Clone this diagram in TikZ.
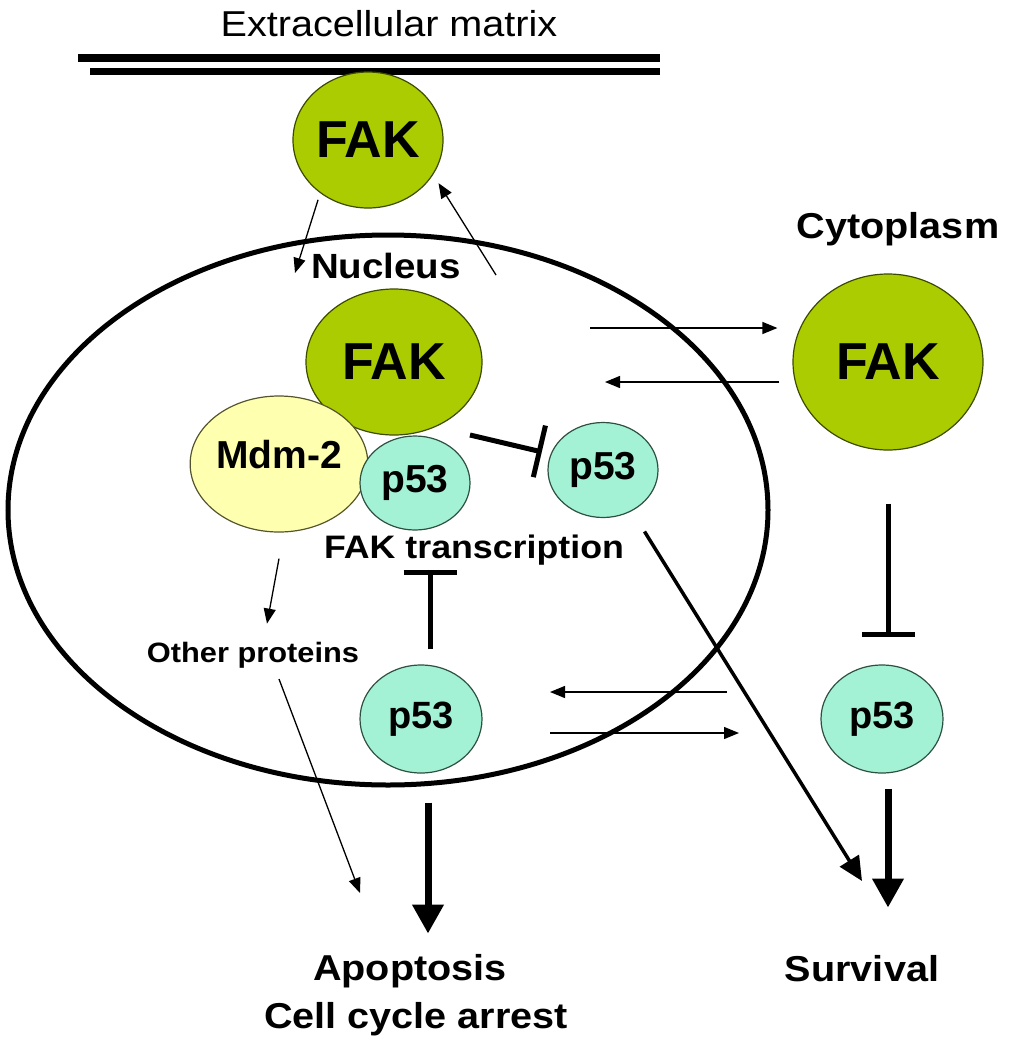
\documentclass[tikz,border=0pt]{standalone}
\usepackage{fontspec}
\setmainfont{Liberation Sans}
\usepackage{graphicx}
\usetikzlibrary{shapes.geometric,arrows.meta}
\definecolor{fakgreen}{RGB}{170,204,0}
\definecolor{fakline}{RGB}{60,75,0}
\definecolor{pcyan}{RGB}{164,242,214}
\definecolor{pline}{RGB}{45,80,65}
\definecolor{mdmyellow}{RGB}{255,255,176}
\definecolor{mdmline}{RGB}{85,85,45}
\newcommand\stretchx[1]{\scalebox{1.1}[1]{#1}}
\tikzset{
	prot/.style={ellipse,inner sep=0pt,line width=1.2pt},
	fak/.style={prot,fill=fakgreen,draw=fakline,font=\bfseries\fontsize{52}{60}\selectfont},
	pfs/.style={prot,fill=pcyan,draw=pline,font=\bfseries\fontsize{39}{46}\selectfont},
	mdmnode/.style={prot,fill=mdmyellow,draw=mdmline,font=\bfseries\fontsize{39}{46}\selectfont},
	tlabel/.style={inner sep=0pt,anchor=base,font=\bfseries\fontsize{36}{43}\selectfont},
	thinarrow/.style={line width=1.3pt,-{Triangle[length=15pt,width=12pt]}},
	midarrow/.style={line width=3.5pt,-{Triangle[length=24pt,width=22pt]}},
	bigarrow/.style={line width=7pt,-{Triangle[length=29pt,width=30pt]}},
	inhibit/.style={line width=5pt,-{Bar[width=53pt]}}
}
\begin{document}
\begin{tikzpicture}[x=1pt,y=-1pt]
	\useasboundingbox (0,0) rectangle (1011,1050);
	\path
	(295,273) coordinate (toNuc)
	(496,275) coordinate (fromNuc)
	(590,328) coordinate (outS)
	(605,382) coordinate (inE)
	(727,692) coordinate (lowLs) (550,692) coordinate (lowL)
	(550,733) coordinate (lowR) (739,733) coordinate (lowRe)
	(470,435) coordinate (inhS)
	(862,881) coordinate (survIn)
	;
	% membrane and nucleus
	\draw[line width=8pt] (78,58) -- (660,58);
	\draw[line width=7pt] (90,71) -- (660,71);
	\draw[line width=5pt] (388,510) ellipse [x radius=380,y radius=275];
	% proteins
	\node[fak,minimum width=150pt,minimum height=136pt] (fakTop) at (368,140) {FAK};
	\node[fak,minimum width=176pt,minimum height=146pt] (fakNuc) at (394,362) {FAK};
	\node[fak,minimum width=190pt,minimum height=176pt] (fakCyt) at (888,362) {FAK};
	\node[mdmnode,minimum width=164pt,minimum height=136pt,text depth=20pt] (mdm) at (279,464) {Mdm-2};
	\node[pfs,minimum width=110pt,minimum height=94pt] (p53c) at (415,483) {p53};
	\node[pfs,minimum width=110pt,minimum height=95pt] (p53n) at (603,470) {p53};
	\node[pfs,minimum width=122pt,minimum height=108pt,font=\bfseries\fontsize{38}{45}\selectfont] (p53l) at (421,719) {p53};
	\node[pfs,minimum width=122pt,minimum height=108pt,font=\bfseries\fontsize{38}{45}\selectfont] (p53r) at (882,719) {p53};
	% labels
	\node[tlabel,font=\fontsize{36}{43}\selectfont] (ecm) at (389,36) {\stretchx{Extracellular matrix}};
	\node[tlabel,font=\bfseries\fontsize{35}{42}\selectfont] (nucl) at (386,278) {\stretchx{Nucleus}};
	\node[tlabel] (cyto) at (898,238) {\stretchx{Cytoplasm}};
	\node[tlabel,font=\bfseries\fontsize{32.5}{39}\selectfont] (trans) at (474,558) {\stretchx{FAK transcription}};
	\node[tlabel,font=\bfseries\fontsize{28}{34}\selectfont] (other) at (253,662) {\stretchx{Other proteins}};
	\node[tlabel] (apop) at (410,980) {\stretchx{Apoptosis}};
	\node[tlabel] (arrest) at (416,1028) {\stretchx{Cell cycle arrest}};
	\node[tlabel] (surv) at (862,981) {\stretchx{Survival}};
	% shuttling of FAK
	\draw[thinarrow,shorten <=7pt] (fakTop.228) -- (toNuc);
	\draw[thinarrow,shorten >=10pt] (fromNuc) -- (fakTop.332);
	\draw[thinarrow,shorten >=15pt] (outS) -- (outS -| fakCyt.west);
	\draw[thinarrow,shorten <=13pt] (fakCyt.west |- inE) -- (inE);
	% shuttling of p53
	\draw[thinarrow] (lowLs) -- (lowL);
	\draw[thinarrow] (lowR) -- (lowRe);
	% inhibitions
	\draw[inhibit,shorten >=9pt] (inhS) -- (p53n.163);
	\draw[inhibit] ([xshift=9pt,yshift=15pt]p53l.north) -- ++(0,-79);
	\draw[inhibit,shorten <=53pt,shorten >=27pt] (fakCyt.south) -- (fakCyt.south |- p53r.north);
	% outcomes
	\draw[thinarrow] ([yshift=-26pt]mdm.south) -- ++(-12,65);
	\draw[thinarrow] ([xshift=26pt,yshift=-11pt]other.south) -- ++(81,214);
	\draw[midarrow,shorten <=24pt] (p53n.-55) -- (survIn);
	\draw[bigarrow] ([xshift=7pt,yshift=-29pt]p53l.south) -- ++(0,131);
	\draw[bigarrow] ([xshift=6pt,yshift=-15pt]p53r.south) -- ++(0,119);
\end{tikzpicture}
\end{document}
